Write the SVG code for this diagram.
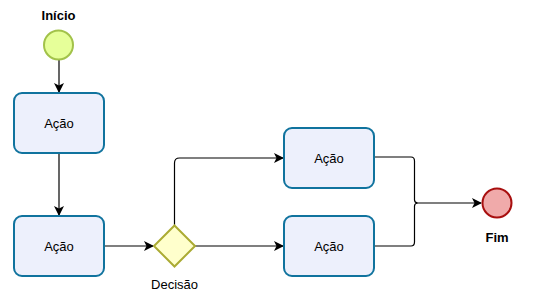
<svg xmlns="http://www.w3.org/2000/svg" width="549" height="298" viewBox="0 0 549 298">
<defs>
<style>
.box{fill:#EDF0FC;stroke:#10739E;stroke-width:2}
.t{font-family:"Liberation Sans",Arial,sans-serif;font-size:13px;fill:#000;text-anchor:middle}
.b{font-weight:bold}
.c{fill:none;stroke:#000;stroke-width:1.2}
</style>
<marker id="arr" viewBox="0 0 10 10" refX="9" refY="5" markerWidth="10" markerHeight="10" markerUnits="userSpaceOnUse" orient="auto">
<path d="M0,0 L10,5 L0,10 L2.5,5 Z" fill="#000"/>
</marker>
</defs>
<rect width="549" height="298" fill="#fff"/>
<g id="connectors">
<path class="c" d="M59,59.5 L59,92" marker-end="url(#arr)"/>
<path class="c" d="M59,153 L59,215" marker-end="url(#arr)"/>
<path class="c" d="M104,246 L153,246" marker-end="url(#arr)"/>
<path class="c" d="M174.5,225 L174.5,163 Q174.5,158 179.5,158 L283,158" marker-end="url(#arr)"/>
<path class="c" d="M195,246 L283,246" marker-end="url(#arr)"/>
<path class="c" d="M374,157 L411,157 Q414.5,157 414.5,161 L414.5,200 Q414.5,202.5 417.5,203 L481,203" marker-end="url(#arr)"/>
<path class="c" d="M374,246 L411,246 Q414.5,246 414.5,242 L414.5,206 Q414.5,203.5 417.5,203"/>
</g>
<g id="start">
<circle cx="58.5" cy="45" r="14.5" fill="#E6FF99" stroke="#A2C24A" stroke-width="2"/>
<text class="t b" x="58.5" y="20">Início</text>
</g>
<g id="acao1">
<rect class="box" x="14" y="93" width="90" height="60" rx="8"/>
<text class="t" x="59" y="127.5">Ação</text>
</g>
<g id="acao2">
<rect class="box" x="14" y="216" width="90" height="60" rx="8"/>
<text class="t" x="59" y="250.5">Ação</text>
</g>
<g id="decisao">
<path d="M174.5,225.5 L195,246 L174.5,266.5 L154,246 Z" fill="#FFFFCC" stroke="#ABAB33" stroke-width="2"/>
<text class="t" x="174.5" y="289">Decisão</text>
</g>
<g id="acao3">
<rect class="box" x="284" y="128" width="90" height="60" rx="8"/>
<text class="t" x="329" y="162.5">Ação</text>
</g>
<g id="acao4">
<rect class="box" x="284" y="216" width="90" height="60" rx="8"/>
<text class="t" x="329" y="250.5">Ação</text>
</g>
<g id="fim">
<circle cx="497" cy="203" r="14.5" fill="#F0AAAA" stroke="#A80F0F" stroke-width="2"/>
<text class="t b" x="497" y="242">Fim</text>
</g>
</svg>
